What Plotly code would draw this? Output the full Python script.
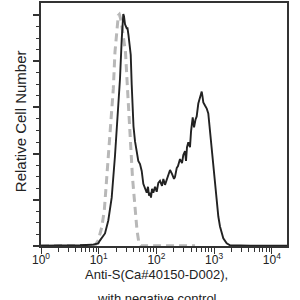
import plotly.graph_objects as go

# Sample (solid) histogram: log10 fluorescence and relative cell count
solid_log_x = [0.000, 0.329, 0.676, 0.884, 0.953, 0.993, 1.023, 1.057, 1.109, 1.166,
               1.225, 1.282, 1.322, 1.369, 1.399, 1.416, 1.426, 1.438, 1.456, 1.485,
               1.499, 1.516, 1.530, 1.542, 1.555, 1.572, 1.589, 1.603, 1.629, 1.659,
               1.686, 1.716, 1.745, 1.773, 1.802, 1.832, 1.854, 1.872, 1.889, 1.906,
               1.924, 1.946, 1.976, 2.005, 2.033, 2.062, 2.097, 2.120, 2.149, 2.184,
               2.206, 2.236, 2.270, 2.305, 2.322, 2.352, 2.374, 2.409, 2.444, 2.466,
               2.496, 2.513, 2.530, 2.553, 2.582, 2.600, 2.629, 2.652, 2.678, 2.698,
               2.726, 2.756, 2.785, 2.799, 2.813, 2.842, 2.872, 2.899, 2.929, 2.958,
               2.986, 3.016, 3.045, 3.073, 3.102, 3.132, 3.159, 3.218, 3.276, 3.622, 4.263]
solid_count = [0.2, 0.2, 0.75, 1.3, 1.8, 2.9, 6.1, 9.3, 13.6, 27.6,
               52.3, 97.4, 132.7, 181.0, 223.9, 247.5, 251.1, 248.6, 240.0, 235.7,
               235.7, 228.2, 220.7, 215.4, 206.8, 174.6, 145.6, 129.5, 113.4, 99.5,
               92.0, 88.7, 81.2, 67.3, 61.9, 57.6, 64.1, 54.4, 57.6, 52.3,
               61.9, 57.6, 64.1, 58.7, 68.4, 70.5, 65.1, 72.6, 66.2, 72.6,
               76.9, 82.3, 78.0, 72.6, 74.8, 84.4, 86.6, 94.1, 89.8, 98.4,
               102.7, 92.0, 107.0, 112.3, 107.0, 124.1, 139.2, 128.4, 137.0, 140.2,
               154.2, 159.6, 167.1, 161.7, 155.3, 152.0, 148.8, 143.5, 124.1, 100.5,
               84.4, 68.4, 49.0, 31.9, 21.1, 14.7, 8.3, 2.9, 0.75, 0.3, 0.3]

# Negative control (dashed grey)
ctrl_log_x = [0.000, 0.849, 0.936, 0.993, 1.052, 1.097, 1.139, 1.166, 1.204, 1.253,
              1.282, 1.312, 1.340, 1.357, 1.378, 1.404, 1.430, 1.464, 1.499, 1.534,
              1.560, 1.586, 1.620, 1.664, 1.698, 1.733, 2.669]
ctrl_count = [0.2, 0.2, 0.75, 6.1, 20.1, 38.3, 73.7, 105.9, 131.7, 170.3,
              210.0, 231.4, 249.7, 250.8, 246.5, 236.8, 222.8, 210.0, 170.3, 129.5,
              105.9, 73.7, 49.0, 16.8, 2.9, 0.2, 0.2]

x_tick_vals = [1, 10, 100, 1000, 10000]
x_tick_text = ["10<sup>0</sup>", "10<sup>1</sup>", "10<sup>2</sup>", "10<sup>3</sup>", "10<sup>4</sup>"]
x_minor_vals = [m * 10 ** k for k in range(4) for m in range(2, 10)]
y_major_vals = [0, 50, 100, 150, 200, 250]
y_minor_vals = [12.5 * i for i in range(21)]

x_title_1 = "Anti-S(Ca#40150-D002),"
x_title_2 = "with negative control"
y_title = "Relative Cell Number"

FONT = "Liberation Sans, Arial, sans-serif"

fig = go.Figure()
fig.add_trace(go.Scatter(
    x=[10 ** v for v in ctrl_log_x], y=ctrl_count, mode="lines",
    line=dict(color="#b8b8b8", width=3, dash="8px,5px"), hoverinfo="skip"))
fig.add_trace(go.Scatter(
    x=[10 ** v for v in solid_log_x], y=solid_count, mode="lines",
    line=dict(color="#222222", width=1.9), hoverinfo="skip"))

fig.update_layout(
    width=300, height=300,
    margin=dict(l=41, r=13, t=1, b=54),
    plot_bgcolor="white", paper_bgcolor="white",
    showlegend=False,
    font=dict(family=FONT, color="#222", size=12),
    xaxis=dict(type="log", range=[0, 4.263], showgrid=False, zeroline=False,
               showline=True, linecolor="#333", linewidth=1.5, mirror=True,
               tickvals=x_tick_vals, ticktext=x_tick_text, ticks="outside",
               ticklen=6, tickwidth=1.4, tickcolor="#333", ticklabelstandoff=-4,
               tickfont=dict(size=12, family=FONT, color="#222"),
               minor=dict(tickvals=x_minor_vals, ticks="outside", ticklen=4,
                          tickwidth=1, tickcolor="#333")),
    yaxis=dict(range=[0, 263], showgrid=False, zeroline=False,
               showline=True, linecolor="#333", linewidth=1.5, mirror=True,
               tickvals=y_major_vals, showticklabels=False, ticks="outside",
               ticklen=6, tickwidth=1.5, tickcolor="#333",
               minor=dict(tickvals=y_minor_vals, ticks="outside", ticklen=3,
                          tickwidth=1, tickcolor="#333")),
    annotations=[
        dict(text=x_title_1, xref="paper", yref="paper", x=0.4715, y=-0.116,
             xanchor="center", yanchor="middle", showarrow=False,
             font=dict(size=13, family=FONT, color="#222")),
        dict(text=x_title_2, xref="paper", yref="paper", x=0.4715, y=-0.214,
             xanchor="center", yanchor="middle", showarrow=False,
             font=dict(size=13, family=FONT, color="#222")),
        dict(text=y_title, xref="paper", yref="paper", x=-0.085, y=0.514,
             xanchor="center", yanchor="middle", showarrow=False, textangle=-90,
             font=dict(size=15, family=FONT, color="#222")),
    ],
)

fig.write_html("out.html")
